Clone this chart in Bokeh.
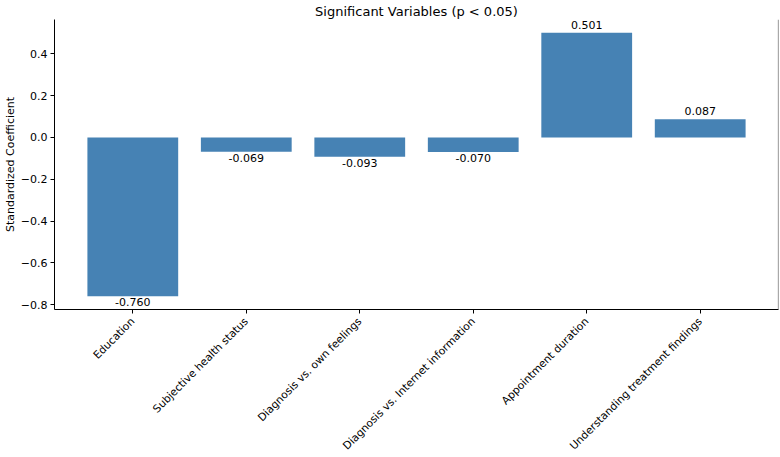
import math
from bokeh.plotting import figure
from bokeh.models import Range1d, FixedTicker, ColumnDataSource, Span
from bokeh.core.properties import value
from bokeh.embed import file_html
from bokeh.resources import INLINE

# Significant predictors and their standardized coefficients
variables = [
    "Education",
    "Subjective health status",
    "Diagnosis vs. own feelings",
    "Diagnosis vs. Internet information",
    "Appointment duration",
    "Understanding treatment findings",
]
coefficients = [-0.760, -0.069, -0.093, -0.070, 0.501, 0.087]
y_ticks = [-0.8, -0.6, -0.4, -0.2, 0.0, 0.2, 0.4]

FONT = "DejaVu Sans"
BAR_COLOR = "#4682B4"
SMALL = "11px"

xs = list(range(len(variables)))
n = len(variables)
pad_x = 0.05 * (n - 1 + 0.8)
span_y = max(coefficients) - min(coefficients)
y_lo = min(coefficients) - 0.05 * span_y
y_hi = max(coefficients) + 0.05 * span_y

p = figure(
    width=780, height=457,
    x_range=Range1d(-0.4 - pad_x, n - 1 + 0.4 + pad_x),
    y_range=Range1d(y_lo, y_hi),
    output_backend="svg", toolbar_location=None,
    min_border_left=53, min_border_right=2, min_border_top=2, min_border_bottom=148,
)
p.title.text = "Significant Variables (p < 0.05)"
p.title.align = "center"
p.title.text_font = FONT
p.title.text_font_size = "13px"
p.title.text_font_style = "normal"
p.title.text_color = "black"
p.title.standoff = 2
p.title.offset = 0

p.grid.visible = False
p.outline_line_color = None
p.background_fill_color = "white"
p.border_fill_color = "white"

src = ColumnDataSource(dict(x=xs, top=coefficients))
p.vbar(x="x", top="top", bottom=0, width=0.8, source=src,
       fill_color=BAR_COLOR, line_color=BAR_COLOR, line_width=0)

# Value labels: above positive bars, below negative ones
pos = [(x, v) for x, v in zip(xs, coefficients) if v >= 0]
neg = [(x, v) for x, v in zip(xs, coefficients) if v < 0]
p.text(x=[a for a, _ in pos], y=[b for _, b in pos], text=[f"{b:.3f}" for _, b in pos],
       text_align="center", text_baseline="bottom", y_offset=-4,
       text_font=value(FONT), text_font_size=SMALL, text_color="black")
p.text(x=[a for a, _ in neg], y=[b for _, b in neg], text=[f"{b:.3f}" for _, b in neg],
       text_align="center", text_baseline="top", y_offset=2,
       text_font=value(FONT), text_font_size=SMALL, text_color="black")

# Right spine
p.add_layout(Span(location=n - 1 + 0.4 + pad_x, dimension="height",
                  line_color="#555555", line_width=1.2))

xa = p.xaxis[0]
xa.ticker = FixedTicker(ticks=xs)
xa.major_label_overrides = {i: v for i, v in enumerate(variables)}
xa.major_label_orientation = math.pi / 4
xa.minor_tick_line_color = None
xa.major_tick_in = 0
xa.major_tick_out = 4
xa.major_label_standoff = 6
xa.axis_line_width = 1
xa.major_label_text_font = FONT
xa.major_label_text_font_size = "10.7px"
xa.major_label_text_color = "black"
# a blank, tiny axis title with a negative standoff keeps the bottom panel compact
xa.axis_label = " "
xa.axis_label_text_font_size = "1px"
xa.axis_label_standoff = -20

ya = p.yaxis[0]
ya.ticker = FixedTicker(ticks=y_ticks)
ya.major_label_overrides = {t: f"{t:.1f}".replace("-", "\u2212") for t in y_ticks}
ya.minor_tick_line_color = None
ya.major_tick_in = 0
ya.major_tick_out = 4
ya.major_label_standoff = 3
ya.axis_line_width = 1
ya.major_label_text_font = FONT
ya.major_label_text_font_size = SMALL
ya.major_label_text_color = "black"
ya.axis_label = "Standardized Coefficient"
ya.axis_label_text_font = FONT
ya.axis_label_text_font_size = SMALL
ya.axis_label_text_font_style = "normal"
ya.axis_label_text_color = "black"
ya.axis_label_standoff = 1

open("out.html", "w").write(file_html(p, INLINE))
